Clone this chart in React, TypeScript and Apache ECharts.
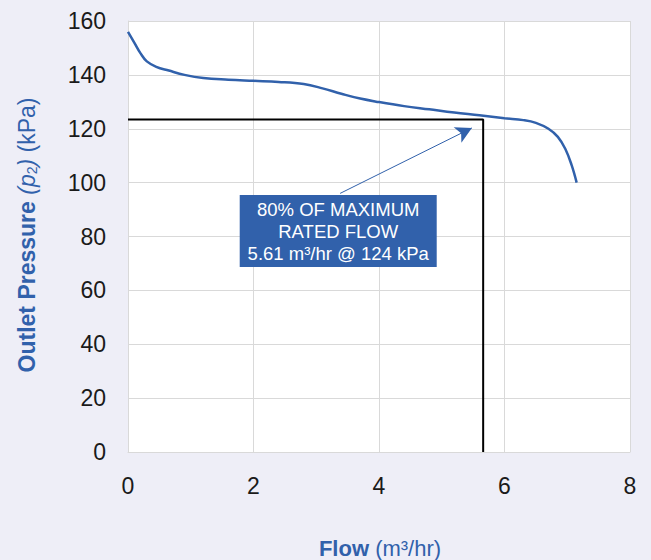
import React, { useEffect, useRef } from "react";
import * as echarts from "echarts";

const flowValues = [0.0, 0.1, 0.2, 0.3, 0.45, 0.65, 0.9, 1.2, 1.6, 2.0, 2.4, 2.8, 3.1, 3.4, 3.7, 4.0, 4.4, 4.8, 5.2, 5.6, 6.0, 6.3, 6.5, 6.7, 6.85, 6.97, 7.07, 7.15];
const pressureValues = [156, 152, 148, 145, 143, 141.6, 140, 138.8, 138.2, 137.8, 137.4, 136.6, 135.0, 133.0, 131.2, 129.9, 128.4, 127.2, 126, 125, 123.9, 123.2, 122.2, 120.0, 117, 112.5, 106.5, 100];
const xTicks = [0, 2, 4, 6, 8];
const yTicks = [0, 20, 40, 60, 80, 100, 120, 140, 160];
const ratedFlow = 5.66;
const ratedPressure = 123.4;
const arrowStart = [3.38, 96];
const arrowEnd = [5.48, 120.3];
const boxAnchor = [3.35, 82];
const boxLines = ["80% OF MAXIMUM", "RATED FLOW", "5.61 m³/hr @ 124 kPa"];

const BLUE = "#3161ab";
const FONT = "Liberation Sans";

export default function App() {
  const ref = useRef<HTMLDivElement>(null);
  useEffect(() => {
    if (!ref.current) return;
    const chart = echarts.init(ref.current, null, { renderer: "svg" });
    chart.setOption({
      animation: false,
      backgroundColor: "#eeeef7",
      grid: { left: 128, right: 21, top: 21, bottom: 108, show: true, backgroundColor: "#ffffff", borderWidth: 0 },
      xAxis: {
        type: "value",
        min: xTicks[0],
        max: xTicks[xTicks.length - 1],
        interval: 2,
        axisLine: { show: true, lineStyle: { color: "#d9d9d9", width: 1 } },
        axisTick: { show: false },
        splitLine: { show: true, lineStyle: { color: "#d9d9d9", width: 1 } },
        axisLabel: { fontSize: 23, color: "#1a1a1a", fontFamily: FONT, margin: 22 },
      },
      yAxis: {
        type: "value",
        min: yTicks[0],
        max: yTicks[yTicks.length - 1],
        interval: 20,
        axisLine: { show: true, lineStyle: { color: "#d9d9d9", width: 1 } },
        axisTick: { show: false },
        splitLine: { show: true, lineStyle: { color: "#d9d9d9", width: 1 } },
        axisLabel: { fontSize: 23, color: "#1a1a1a", fontFamily: FONT, margin: 22 },
      },
      graphic: [
        {
          type: "text",
          x: 27,
          y: 235,
          rotation: Math.PI / 2,
          style: {
            text: "{b|Outlet Pressure} {i|(p}{s|2}{i|)} {n|(kPa)}",
            align: "center",
            verticalAlign: "middle",
            fill: BLUE,
            fontFamily: FONT,
            fontSize: 23,
            rich: {
              b: { fontWeight: "bold", fontSize: 23, fill: BLUE, fontFamily: FONT },
              i: { fontStyle: "italic", fontSize: 23, fill: BLUE, fontFamily: FONT },
              s: { fontSize: 14, fill: BLUE, fontFamily: FONT, padding: [9, 0, 0, 0] },
              n: { fontSize: 23, fill: BLUE, fontFamily: FONT },
            },
          },
        },
        {
          type: "text",
          x: 380,
          y: 548,
          style: {
            text: "{b|Flow} {n|(m³/hr)}",
            align: "center",
            verticalAlign: "middle",
            fill: BLUE,
            fontFamily: FONT,
            fontSize: 22,
            rich: {
              b: { fontWeight: "bold", fontSize: 22, fill: BLUE, fontFamily: FONT },
              n: { fontSize: 22, fill: BLUE, fontFamily: FONT },
            },
          },
        },
      ],
      series: [
        {
          type: "line",
          data: [
            [0, ratedPressure],
            [ratedFlow, ratedPressure],
            [ratedFlow, 0],
          ],
          symbol: "none",
          lineStyle: { color: "#000000", width: 2 },
          z: 3,
        },
        {
          type: "line",
          data: flowValues.map((x, i) => [x, pressureValues[i]]),
          symbol: "none",
          smooth: 0.4,
          lineStyle: { color: BLUE, width: 2.5 },
          z: 4,
          markLine: {
            silent: true,
            symbol: ["none", "arrow"],
            symbolSize: [13, 16],
            lineStyle: { color: BLUE, width: 1, type: "solid" },
            label: { show: false },
            data: [[{ coord: arrowStart }, { coord: arrowEnd }]],
          },
        },
        {
          type: "scatter",
          data: [boxAnchor],
          symbolSize: 0,
          itemStyle: { opacity: 1 },
          z: 6,
          label: {
            show: true,
            opacity: 1,
            position: "inside",
            formatter: boxLines.join("\n"),
            backgroundColor: BLUE,
            color: "#ffffff",
            fontFamily: FONT,
            fontSize: 18.5,
            lineHeight: 22,
            align: "center",
            verticalAlign: "middle",
            padding: [3, 0, 3, 0],
            width: 197,
          },
        },
      ],
    });
    return () => chart.dispose();
  }, []);
  return (
    <div
      ref={ref}
      style={{ position: "fixed", left: 0, top: 0, width: 651, height: 560 }}
    />
  );
}
